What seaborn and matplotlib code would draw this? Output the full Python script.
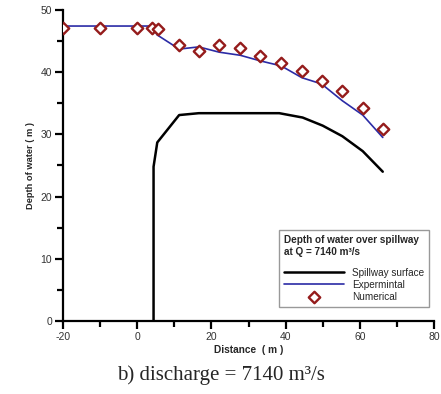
import numpy as np
import pandas as pd
import matplotlib
matplotlib.use("Agg")
import matplotlib.pyplot as plt
import seaborn as sns

# spillway crest profile
spill_x = [4.4, 4.4, 5.4, 11.3, 16.6, 27.8, 38.3, 44.6, 50.0, 55.3, 60.8, 66.2]
spill_y = [0.0, 24.8, 28.7, 33.1, 33.4, 33.4, 33.4, 32.7, 31.4, 29.7, 27.3, 24.0]

# experimental water surface
exp_x = [-20, 4.4, 5.3, 11.3, 16.6, 22.1, 27.8, 33.2, 38.8, 44.4, 49.7, 55.3, 60.8, 66.2]
exp_y = [47.4, 47.4, 46.0, 43.7, 44.05, 43.2, 42.7, 41.8, 41.0, 39.1, 38.1, 35.4, 33.1, 29.5]

# numerical results
num_x = [-20, -10, 0, 4.0, 5.7, 11.3, 16.6, 22.1, 27.8, 33.2, 38.8, 44.4, 49.7, 55.3, 60.8, 66.2]
num_y = [47.05, 47.05, 47.05, 47.05, 46.9, 44.3, 43.4, 44.4, 43.8, 42.55, 41.5, 40.25, 38.6, 36.9, 34.3, 30.8]

sns.set_style("ticks")
plt.rcParams['font.family'] = ['Liberation Sans', 'DejaVu Sans']
plt.rcParams['axes.unicode_minus'] = False

fig = plt.figure(figsize=(4.41, 3.94), dpi=100)
ax = fig.add_axes([0.143, 0.185, 0.841, 0.79])

sns.lineplot(x=spill_x, y=spill_y, sort=False, estimator=None, color="black", lw=1.8,
             label="Spillway surface", ax=ax)
sns.lineplot(x=exp_x, y=exp_y, sort=False, estimator=None, color="#2b2ba6", lw=1.2,
             label="Expermintal", ax=ax)
sns.scatterplot(x=num_x, y=num_y, marker="D", s=34, facecolor="white",
                edgecolor="#951c1c", linewidth=1.7, label="Numerical", ax=ax, zorder=5)

ax.set_xlim(-20, 80)
ax.set_ylim(0, 50)
ax.set_xticks(range(-20, 81, 20))
ax.set_xticks(range(-10, 80, 20), minor=True)
ax.set_yticks(range(0, 51, 10))
ax.set_yticks(range(5, 50, 10), minor=True)
sns.despine(ax=ax)
for s in ["left", "bottom"]:
    ax.spines[s].set_linewidth(1.6)
    ax.spines[s].set_color("black")
ax.tick_params(which="major", length=6, width=1.6, color="black",
               labelsize=7.5, labelcolor="#333333", pad=2)
ax.tick_params(which="minor", length=4, width=1.6, color="black")

ax.set_xlabel("Distance  ( m )", fontsize=7.3, fontweight="bold", labelpad=2)
ax.set_ylabel("Depth of water ( m )", fontsize=6.7, fontweight="bold", labelpad=4)

leg = ax.legend(title="Depth of water over spillway\nat Q = 7140 m³/s",
                loc="lower right", bbox_to_anchor=(1.0, 0.03),
                fontsize=7.2, title_fontproperties={"weight": "bold", "size": 7.2},
                alignment="left", handlelength=6, frameon=True, fancybox=False,
                edgecolor="#999999", framealpha=1, borderpad=0.5, labelspacing=0.2)
leg.get_frame().set_linewidth(1.0)
leg._legend_box.sep = 8

fig.text(0.5, 0.022, "b) discharge = 7140 m³/s", ha="center", va="bottom",
         fontsize=15, family="Liberation Serif")

fig.savefig("out.png", dpi=100)
